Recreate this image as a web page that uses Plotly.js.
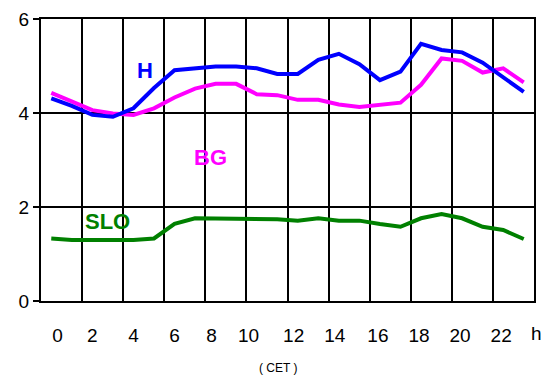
<!DOCTYPE html>
<html><head><meta charset="utf-8">
<script src="https://cdn.plot.ly/plotly-3.0.1.min.js"></script>
<style>html,body{margin:0;padding:0;background:#fff}#c{width:552px;height:378px}</style>
</head><body><div id="c"></div>
<script>
const hours = [0,1,2,3,4,5,6,7,8,9,10,11,12,13,14,15,16,17,18,19,20,21,22,23];
const H   = [4.31,4.15,3.96,3.92,4.10,4.53,4.91,4.95,4.99,4.99,4.95,4.83,4.83,5.13,5.26,5.04,4.70,4.88,5.47,5.34,5.29,5.07,4.77,4.45];
const BG  = [4.43,4.24,4.06,3.99,3.96,4.10,4.33,4.52,4.62,4.62,4.40,4.38,4.28,4.28,4.18,4.13,4.17,4.22,4.60,5.16,5.11,4.86,4.95,4.65];
const SLO = [1.33,1.30,1.30,1.30,1.30,1.33,1.64,1.76,1.76,1.76,1.76,1.74,1.71,1.76,1.71,1.71,1.64,1.58,1.76,1.85,1.76,1.58,1.51,1.32];
const xTickVals = [0.3,2,4,6,7.8,9.6,11.8,13.8,15.9,17.9,19.9,21.9];
const xTickText = ['0','2','4','6','8','10','12','14','16','18','20','22'];
const yTicks = [0,2,4,6];

const font = 'Liberation Sans, Arial, sans-serif';
const mk = (y, c) => ({x: hours, y: y, type: 'scatter', mode: 'lines', line: {color: c, width: 4}, hoverinfo: 'skip', showlegend: false});
const data = [mk(SLO,'#008000'), mk(BG,'#ff00ff'), mk(H,'#0000ff')];

const layout = {
  width: 552, height: 378,
  margin: {l: 41, r: 18, t: 19, b: 77},
  paper_bgcolor: '#fff', plot_bgcolor: '#fff',
  font: {family: font, color: '#000'},
  xaxis: {range: [-0.5, 23.5], tick0: -0.5, dtick: 2, showgrid: true, gridcolor: '#000', gridwidth: 2,
          showticklabels: false, ticks: '', zeroline: false, showline: true, linecolor: '#000', linewidth: 2, mirror: true, fixedrange: true},
  xaxis2: {range: [-0.5, 23.5], overlaying: 'x', anchor: 'y', side: 'bottom', tickmode: 'array', tickvals: xTickVals, ticktext: xTickText,
           showgrid: false, zeroline: false, ticks: 'outside', ticklen: 17, tickcolor: 'rgba(0,0,0,0)', tickfont: {size: 19, family: font}, fixedrange: true},
  yaxis: {range: [0, 6], tickmode: 'array', tickvals: yTicks, showgrid: true, gridcolor: '#000', gridwidth: 2, zeroline: false,
          ticks: 'outside', ticklen: 6, tickcolor: '#000', tickwidth: 2, tickfont: {size: 19, family: font},
          showline: true, linecolor: '#000', linewidth: 2, mirror: true, fixedrange: true},
  annotations: [
    {x: 4.56, y: 4.91, xref: 'x', yref: 'y', text: '<b>H</b>', showarrow: false, font: {size: 22, color: '#0000ff', family: font}},
    {x: 7.73, y: 3.06, xref: 'x', yref: 'y', text: '<b>BG</b>', showarrow: false, font: {size: 22, color: '#ff00ff', family: font}},
    {x: 2.76, y: 1.70, xref: 'x', yref: 'y', text: '<b>SLO</b>', showarrow: false, font: {size: 22, color: '#008000', family: font}},
    {x: 1.006, y: -0.117, xref: 'paper', yref: 'paper', xanchor: 'center', yanchor: 'middle', text: 'h', showarrow: false, font: {size: 19, color: '#000', family: font}},
    {x: 0.4807, y: -0.2376, xref: 'paper', yref: 'paper', xanchor: 'center', yanchor: 'middle', text: '( CET )', showarrow: false, font: {size: 12, color: '#000', family: font}}
  ]
};
data.push({x: [0], y: [null], xaxis: 'x2', yaxis: 'y', type: 'scatter', mode: 'lines', showlegend: false, hoverinfo: 'skip'});
Plotly.newPlot('c', data, layout, {staticPlot: true, displayModeBar: false});
</script></body></html>
